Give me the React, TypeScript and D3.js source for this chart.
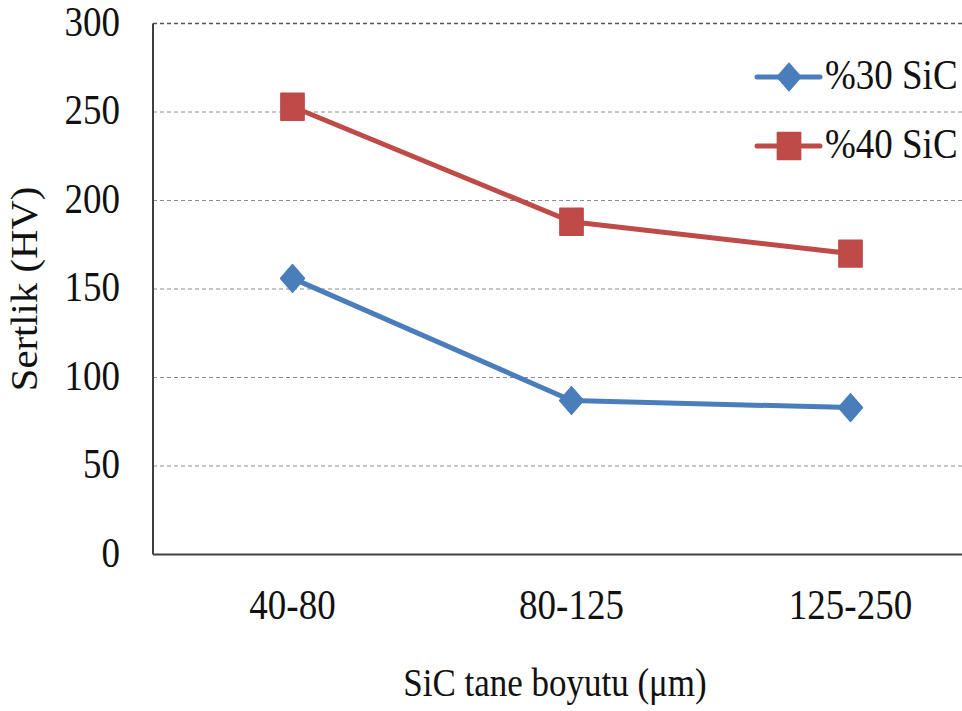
import { useEffect, useRef } from "react";
import * as d3 from "d3";

const categories = ["40-80", "80-125", "125-250"];
const sic30 = [156, 87, 83];
const sic40 = [253, 188, 170];
const yTicks = [0, 50, 100, 150, 200, 250, 300];

const BLUE = "#4a7ebb";
const RED = "#be4b48";
const FONT = "Liberation Serif";
const STRETCH = 1.15; // glyphs and markers in the source look a bit taller than wide

export default function App() {
  const svgRef = useRef<SVGSVGElement>(null);

  useEffect(() => {
    if (!svgRef.current) return;
    const height = 711;
    const svg = d3.select(svgRef.current);
    svg.selectAll("*").remove();

    const margin = { top: 23.5, left: 153, bottom: 156.5 };
    const plotW = 837;
    const plotH = height - margin.top - margin.bottom;

    const g = svg
      .append("g")
      .attr("transform", `translate(${margin.left},${margin.top})`);

    const x = d3.scaleBand().domain(categories).range([0, plotW]);
    const y = d3.scaleLinear().domain([0, 300]).range([plotH, 0]);

    // gridlines
    g.selectAll(".grid")
      .data(yTicks.filter((t) => t > 0))
      .join("line")
      .attr("x1", 0)
      .attr("x2", plotW)
      .attr("y1", (d) => y(d))
      .attr("y2", (d) => y(d))
      .attr("stroke", (d) => (d === 300 ? "#555" : "#8c8c8c"))
      .attr("stroke-width", (d) => (d === 300 ? 1.5 : 1))
      .attr("stroke-dasharray", "4,3");

    // axis lines
    g.append("line")
      .attr("x1", 0)
      .attr("x2", 0)
      .attr("y1", 0)
      .attr("y2", plotH)
      .attr("stroke", "#404040")
      .attr("stroke-width", 2);
    g.append("line")
      .attr("x1", 0)
      .attr("x2", plotW)
      .attr("y1", plotH)
      .attr("y2", plotH)
      .attr("stroke", "#404040")
      .attr("stroke-width", 2);

    // y tick labels
    g.selectAll(".ytick")
      .data(yTicks)
      .join("text")
      .attr("transform", (d) => `translate(-33,${y(d) + 12}) scale(1,${STRETCH})`)
      .attr("text-anchor", "end")
      .attr("font-family", FONT)
      .attr("font-size", 37)
      .attr("fill", "#111")
      .text((d) => d);

    // x tick labels
    g.selectAll(".xtick")
      .data(categories)
      .join("text")
      .attr(
        "transform",
        (d) => `translate(${x(d)! + x.bandwidth() / 2},${plotH + 64}) scale(1,${STRETCH})`
      )
      .attr("text-anchor", "middle")
      .attr("font-family", FONT)
      .attr("font-size", 37)
      .attr("fill", "#111")
      .text((d) => d);

    // axis titles
    svg
      .append("text")
      .attr("transform", `translate(37,${margin.top + plotH / 2}) rotate(-90) scale(1.1,1)`)
      .attr("text-anchor", "middle")
      .attr("font-family", FONT)
      .attr("font-size", 37)
      .attr("fill", "#111")
      .text("Sertlik (HV)");

    svg
      .append("text")
      .attr("transform", `translate(555,696) scale(1,${STRETCH})`)
      .attr("text-anchor", "middle")
      .attr("font-family", FONT)
      .attr("font-size", 35)
      .attr("fill", "#111")
      .text("SiC tane boyutu (μm)");

    const cx = (c: string) => x(c)! + x.bandwidth() / 2;
    const line = d3
      .line<number>()
      .x((_, i) => cx(categories[i]))
      .y((d) => y(d));

    const series = [
      { name: "%30 SiC", values: sic30, color: BLUE, size: 285, rot: 45 },
      { name: "%40 SiC", values: sic40, color: RED, size: 540, rot: 0 },
    ];

    series.forEach((s) => {
      g.append("path")
        .attr("d", line(s.values))
        .attr("fill", "none")
        .attr("stroke", s.color)
        .attr("stroke-width", 5)
        .attr("stroke-linejoin", "round");
      g.selectAll(null)
        .data(s.values)
        .join("path")
        .attr(
          "transform",
          (d, i) =>
            `translate(${cx(categories[i])},${y(d)}) scale(1,${STRETCH}) rotate(${s.rot})`
        )
        .attr("d", d3.symbol(d3.symbolSquare, s.size)())
        .attr("fill", s.color)
        .attr("stroke", s.color)
        .attr("stroke-width", 1.5)
        .attr("stroke-linejoin", "round");
    });

    // legend
    const legend = svg.append("g").attr("transform", "translate(757,77)");
    series.forEach((s, i) => {
      const ly = i * 69;
      legend
        .append("line")
        .attr("x1", 0)
        .attr("x2", 63)
        .attr("y1", ly)
        .attr("y2", ly)
        .attr("stroke", s.color)
        .attr("stroke-width", 5)
        .attr("stroke-linecap", "round");
      legend
        .append("path")
        .attr("transform", `translate(32,${ly}) scale(1,${STRETCH}) rotate(${s.rot})`)
        .attr("d", d3.symbol(d3.symbolSquare, s.size)())
        .attr("fill", s.color)
        .attr("stroke", s.color)
        .attr("stroke-width", 1.5)
        .attr("stroke-linejoin", "round");
      legend
        .append("text")
        .attr("transform", `translate(68,${ly + 12}) scale(1,${STRETCH})`)
        .attr("font-family", FONT)
        .attr("font-size", 37)
        .attr("fill", "#111")
        .text(s.name);
    });
  }, []);

  return (
    <svg
      ref={svgRef}
      width={962}
      height={711}
      style={{ position: "absolute", left: 0, top: 0, background: "#fff" }}
    />
  );
}
